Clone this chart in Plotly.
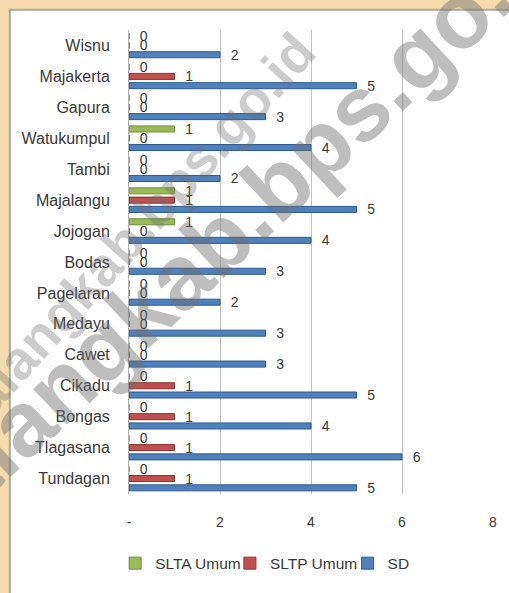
import plotly.graph_objects as go

villages = ["Tundagan", "Tlagasana", "Bongas", "Cikadu", "Cawet", "Medayu", "Pagelaran",
            "Bodas", "Jojogan", "Majalangu", "Tambi", "Watukumpul", "Gapura", "Majakerta", "Wisnu"]
sd = [5, 6, 4, 5, 3, 3, 2, 3, 4, 5, 2, 4, 3, 5, 2]
sltp = [1, 1, 1, 1, 0, 0, 0, 0, 0, 1, 0, 0, 0, 1, 0]
slta = [0, 0, 0, 0, 0, 0, 0, 0, 1, 1, 0, 1, 0, 0, 0]
tick_vals = [0, 2, 4, 6, 8]
tick_text = ["-", "2", "4", "6", "8"]
watermark = "pemalangkab.bps.go.id"

FONT = "Liberation Sans, Arial, sans-serif"
TXT = "#3a3a3a"

W, H = 509, 593
L, R, T, B = 129, 12, 30, 96
pw, ph = W - L - R, H - T - B


def px(x):
    return (x - L) / pw


def py(y):
    return (H - B - y) / ph


fig = go.Figure()
series = [("SD", sd, "#4f81bd", "#2f5a8f", "legend3"),
          ("SLTP Umum", sltp, "#c0504d", "#8c3230", "legend2"),
          ("SLTA Umum", slta, "#9bbb59", "#6f8f35", "legend")]
for name, vals, col, edge, leg in series:
    fig.add_trace(go.Bar(
        y=villages, x=vals, name=name, orientation="h", legend=leg,
        marker=dict(color=col, line=dict(color=edge, width=1)),
        text=[str(v) for v in vals], texttemplate="  %{text}", textposition="outside",
        constraintext="none",
        textfont=dict(family=FONT, size=14, color=TXT),
        cliponaxis=False,
    ))

leg_common = dict(orientation="h", xanchor="left", y=py(567), yanchor="middle",
                  font=dict(size=15.5, color=TXT), itemwidth=30,
                  bgcolor="rgba(0,0,0,0)")

fig.update_layout(
    width=W, height=H,
    margin=dict(l=L, r=R, t=T, b=B),
    paper_bgcolor="#f6dcad",
    plot_bgcolor="white",
    barmode="group", bargap=0.1, bargroupgap=0.35,
    font=dict(family=FONT, size=15, color=TXT),
    showlegend=True,
    legend=dict(x=px(115), **leg_common),
    legend2=dict(x=px(231), **leg_common),
    legend3=dict(x=px(350), **leg_common),
    xaxis=dict(range=[0, 8], tickvals=tick_vals, ticktext=tick_text,
               showgrid=True, gridcolor="#c4c4c4", gridwidth=1, zeroline=False,
               ticks="outside", ticklen=15, tickcolor="rgba(0,0,0,0)",
               tickfont=dict(size=14, color=TXT), fixedrange=True),
    yaxis=dict(categoryorder="array", categoryarray=villages, showline=True,
               linecolor="#b0b0b0", linewidth=1,
               ticks="outside", ticklen=15, tickcolor="rgba(0,0,0,0)",
               tickfont=dict(size=16, color=TXT), fixedrange=True),
    shapes=[dict(type="rect", xref="paper", yref="paper", layer="below",
                 x0=px(8.5), x1=px(W + 60), y0=py(H + 60), y1=py(9.5),
                 fillcolor="white", line=dict(color="#a8a8a8", width=2))],
    annotations=[
        dict(text="<b>" + watermark + "</b>", xref="paper", yref="paper",
             x=px(183), y=py(275), xanchor="center", yanchor="middle",
             showarrow=False, textangle=-43,
             font=dict(family=FONT, size=92, color="rgba(110,110,110,0.45)")),
        dict(text="<b>" + watermark + "</b>", xref="paper", yref="paper",
             x=px(104), y=py(266), xanchor="center", yanchor="middle",
             showarrow=False, textangle=-48,
             font=dict(family=FONT, size=54, color="rgba(110,110,110,0.35)")),
    ],
)

fig.write_html("out.html", config={"displayModeBar": False},
               post_script="document.body.style.margin='0';document.body.style.overflow='hidden';")
